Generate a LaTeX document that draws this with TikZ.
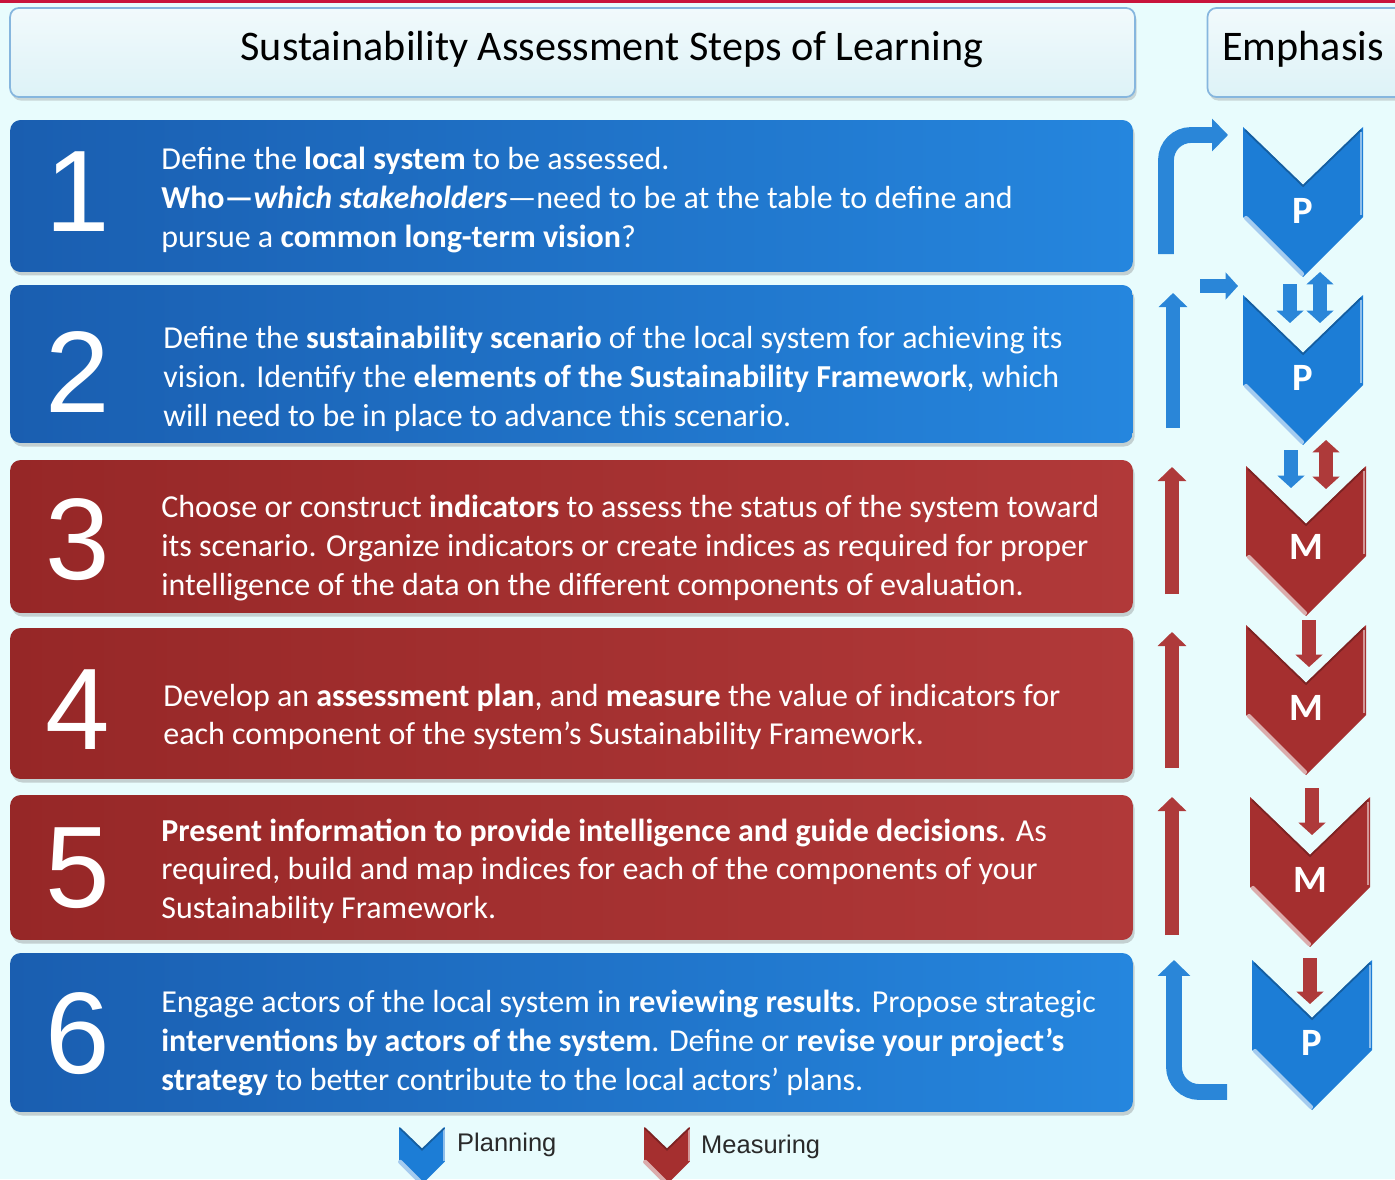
\documentclass[tikz,border=0pt]{standalone}
\usepackage{fontspec}
\setmainfont{Carlito}
\newfontfamily\digitfont{Liberation Sans}
\newfontfamily\legendfont{Liberation Sans}
\usetikzlibrary{arrows.meta,shadows}
\usepackage{xcolor}

\definecolor{bgcyan}{HTML}{E8FCFD}
\definecolor{topred}{HTML}{C8143C}
\definecolor{hdrline}{HTML}{86B6DE}
\definecolor{hdrfill}{HTML}{DDF2F7}
\definecolor{barblueD}{HTML}{1A5EB0}
\definecolor{barblueL}{HTML}{2586DE}
\definecolor{barredD}{HTML}{962727}
\definecolor{barredL}{HTML}{B13939}
\definecolor{chevblue}{HTML}{1C7DD6}
\definecolor{chevred}{HTML}{A52F2F}
\definecolor{arrblue}{HTML}{2A86D8}
\definecolor{arrred}{HTML}{AE3A3A}
\definecolor{legendgray}{HTML}{2A2A2A}

% chevron: colour, centre x, top y, scale
\newcommand{\chevron}[4]{%
	\begin{scope}[shift={(#2,#3)},scale=#4]
		\fill[#1] (-60,0) -- (0,58) -- (60,0) -- (60,90) -- (0,150) -- (-60,90) -- cycle;
		\draw[white!60!#1,line width=2.4pt,line cap=round] (-57,91) -- (-1,147);
		\draw[white!50!#1,line width=1.4pt] (58,5) -- (58,88);
		\draw[black!25!#1,line width=1pt] (-58,3) -- (0,59) -- (58,3);
	\end{scope}}

\begin{document}
\begin{tikzpicture}[x=0.02cm,y=-0.02cm,
		bar/.style={rounded corners=6pt,minimum width=22.46cm,
			drop shadow={opacity=0.35,shadow xshift=1pt,shadow yshift=-2pt}},
		bluebar/.style={bar,left color=barblueD,right color=barblueL},
		redbar/.style={bar,left color=barredD,right color=barredL},
		hdrbox/.style={draw=hdrline,line width=1pt,rounded corners=5pt,
			top color=hdrfill!40!white,bottom color=hdrfill,
			drop shadow={opacity=0.3,shadow xshift=1pt,shadow yshift=-2pt}},
		hdrtext/.style={font=\fontsize{24}{24}\selectfont},
		numeral/.style={text=white,font=\digitfont\fontsize{66}{66}\selectfont},
		steptext/.style={anchor=west,align=left,text=white,inner sep=0pt,
			font=\fontsize{18.2}{22}\selectfont},
		chevletter/.style={text=white,font=\bfseries\fontsize{22}{22}\selectfont},
		bigarrow/.style={draw=#1,line width=9pt,-{Triangle[length=9pt,width=18pt]}},
		uparrow/.style={draw=#1,line width=8pt,-{Triangle[length=8pt,width=16pt]}},
		smallarrow/.style={draw=#1,line width=7.5pt,-{Triangle[length=7pt,width=15pt]}},
		twoarrow/.style={draw=#1,line width=7.5pt,
			{Triangle[length=7pt,width=15pt]}-{Triangle[length=7pt,width=15pt]}},
		legendtext/.style={anchor=west,text=legendgray,font=\legendfont\fontsize{14.5}{14.5}\selectfont}]

	% Background
	\fill[bgcyan] (0,0) rectangle (1395,1179);
	\useasboundingbox (0,0) rectangle (1395,1179);
	\clip (0,0) rectangle (1395,1179);
	\fill[topred] (0,0) rectangle (1395,3);

	% Header
	\node[hdrbox,minimum width=22.5cm,minimum height=1.78cm] (hdr) at (572.5,52.5) {};
	\node[hdrtext] (title) at (612,49) {Sustainability Assessment Steps of Learning};
	\node[hdrbox,minimum width=4.3cm,minimum height=1.78cm] (emphbox) at (1315,52.5) {};
	\node[hdrtext] (emph) at (1303,49) {Emphasis};

	% Steps
	\node[bluebar,minimum height=3.04cm] (s1) at (571.5,196) {};
	\node[bluebar,minimum height=3.16cm] (s2) at (571.5,364) {};
	\node[redbar,minimum height=3.06cm] (s3) at (571.5,536.5) {};
	\node[redbar,minimum height=3.02cm] (s4) at (571.5,703.5) {};
	\node[redbar,minimum height=2.90cm] (s5) at (571.5,867.5) {};
	\node[bluebar,minimum height=3.18cm] (s6) at (571.5,1032.5) {};

	\node[numeral] (n1) at (78,192) {1};
	\node[numeral] (n2) at (78,372) {2};
	\node[numeral] (n3) at (78,540) {3};
	\node[numeral] (n4) at (78,710) {4};
	\node[numeral] (n5) at (78,868) {5};
	\node[numeral] (n6) at (78,1034) {6};

	\node[steptext] (t1) at (161,200) {Define the \textbf{local system} to be assessed.\\
		\textbf{Who---\textit{which stakeholders}}---need to be at the table to define and\\
		pursue a \textbf{common long-term vision}?};
	\node[steptext] (t2) at (163,379) {Define the \textbf{sustainability scenario} of the local system for achieving its\\
		vision. Identify the \textbf{elements of the Sustainability Framework}, which\\
		will need to be in place to advance this scenario.};
	\node[steptext] (t3) at (161,548) {Choose or construct \textbf{indicators} to assess the status of the system toward\\
		its scenario. Organize indicators or create indices as required for proper\\
		intelligence of the data on the different components of evaluation.};
	\node[steptext] (t4) at (163,717) {Develop an \textbf{assessment plan}, and \textbf{measure} the value of indicators for\\
		each component of the system’s Sustainability Framework.};
	\node[steptext] (t5) at (161,871) {\textbf{Present information to provide intelligence and guide decisions}. As\\
		required, build and map indices for each of the components of your\\
		Sustainability Framework.};
	\node[steptext] (t6) at (161,1043) {Engage actors of the local system in \textbf{reviewing results}. Propose strategic\\
		\textbf{interventions by actors of the system}. Define or \textbf{revise your project’s}\\
		\textbf{strategy} to better contribute to the local actors’ plans.};

	% Emphasis chevrons
	\chevron{chevblue}{1303}{127}{1}
	\chevron{chevblue}{1303}{295}{1}
	\chevron{chevred}{1306}{466}{1}
	\chevron{chevred}{1306}{625}{1}
	\chevron{chevred}{1310}{797}{1}
	\chevron{chevblue}{1312}{960}{1}
	\node[chevletter] (c1) at (1303,211) {P};
	\node[chevletter] (c2) at (1303,378) {P};
	\node[chevletter] (c3) at (1306,547) {M};
	\node[chevletter] (c4) at (1306,708) {M};
	\node[chevletter] (c5) at (1310,880) {M};
	\node[chevletter] (c6) at (1312,1043) {P};

	% Arrows
	\coordinate (b1s) at (1166,254);
	\coordinate (b1e) at (1228,135);
	\draw[bigarrow=arrblue,rounded corners=0.5cm] (b1s) |- (b1e);
	\coordinate (r2s) at (1200,286);
	\coordinate (r2e) at (1238,286);
	\draw[smallarrow=arrblue] (r2s) -- (r2e);
	\coordinate (u2s) at (1173,428);
	\coordinate (u2e) at (1173,293);
	\draw[uparrow=arrblue] (u2s) -- (u2e);
	\coordinate (u3s) at (1172,594);
	\coordinate (u3e) at (1172,467);
	\draw[uparrow=arrred] (u3s) -- (u3e);
	\coordinate (u4s) at (1172,768);
	\coordinate (u4e) at (1172,632);
	\draw[uparrow=arrred] (u4s) -- (u4e);
	\coordinate (u5s) at (1172,935);
	\coordinate (u5e) at (1172,797);
	\draw[uparrow=arrred] (u5s) -- (u5e);
	\coordinate (b6s) at (1227,1092);
	\coordinate (b6e) at (1174,960);
	\draw[bigarrow=arrblue,rounded corners=0.5cm] (b6s) -| (b6e);

	\coordinate (d12s) at (1290,284);
	\coordinate (d12e) at (1290,323);
	\draw[smallarrow=arrblue] (d12s) -- (d12e);
	\coordinate (x12s) at (1320,272);
	\coordinate (x12e) at (1320,323);
	\draw[twoarrow=arrblue] (x12s) -- (x12e);
	\coordinate (d23s) at (1291,450);
	\coordinate (d23e) at (1291,488);
	\draw[smallarrow=arrblue] (d23s) -- (d23e);
	\coordinate (x23s) at (1326,440);
	\coordinate (x23e) at (1326,489);
	\draw[twoarrow=arrred] (x23s) -- (x23e);
	\draw[smallarrow=arrred] (1309,620) -- (1309,667);
	\draw[smallarrow=arrred] (1312,788) -- (1312,835);
	\draw[smallarrow=arrred] (1310,958) -- (1310,1004);

	% Legend
	\chevron{chevblue}{422}{1127}{0.383}
	\node[legendtext] (plan) at (451,1145) {Planning};
	\chevron{chevred}{667}{1127}{0.383}
	\node[legendtext] (meas) at (695,1147) {Measuring};
\end{tikzpicture}
\end{document}
